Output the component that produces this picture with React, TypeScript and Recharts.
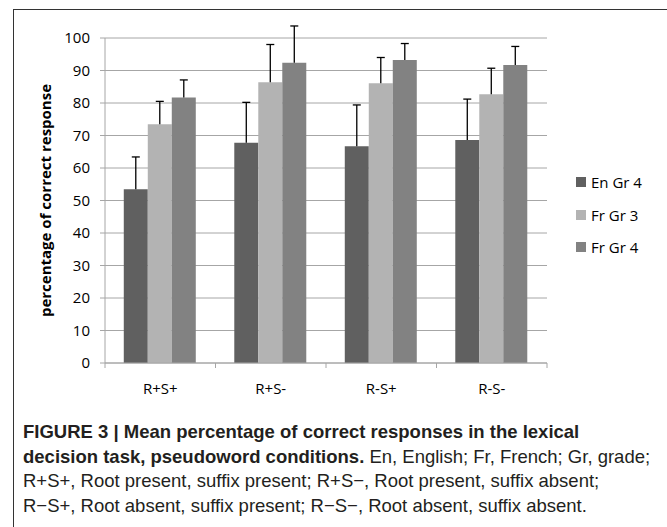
import React from 'react';
import { BarChart, Bar, XAxis, YAxis, CartesianGrid, Legend, LabelList } from 'recharts';

const categories = ['R+S+', 'R+S-', 'R-S+', 'R-S-'];
const enGr4 = [53.5, 67.8, 66.7, 68.6];
const frGr3 = [73.5, 86.4, 86.1, 82.7];
const frGr4 = [81.7, 92.4, 93.2, 91.7];
const enGr4Err = [9.9, 12.4, 12.7, 12.6];
const frGr3Err = [7.0, 11.6, 7.9, 8.0];
const frGr4Err = [5.4, 11.3, 5.1, 5.7];
const yTicks = [0, 10, 20, 30, 40, 50, 60, 70, 80, 90, 100];

const seriesNames = ['En Gr 4', 'Fr Gr 3', 'Fr Gr 4'];
const seriesColors = ['#606060', '#b3b3b3', '#828282'];

const data = categories.map((c, i) => ({
  cat: c,
  en4: enGr4[i],
  fr3: frGr3[i],
  fr4: frGr4[i],
}));

const TICK_FONT = '"Open Sans", sans-serif';
const GRID = '#a6a6a6';

const makeErr = (vals: number[], errs: number[]) => (p: any) => {
  const i = p.index;
  const v = vals[i];
  const e = errs[i];
  const x = Number(p.x), y = Number(p.y), w = Number(p.width), h = Number(p.height);
  if (!v || !isFinite(h)) return null;
  const perUnit = h / v;
  const top = y - e * perUnit;
  const cx = x + w / 2;
  return (
    <g>
      <line x1={cx} x2={cx} y1={y} y2={top} stroke="#000" strokeWidth={1.3} />
      <line x1={cx - 4} x2={cx + 4} y1={top} y2={top} stroke="#000" strokeWidth={1.3} />
    </g>
  );
};

const XTick = (p: any) => {
  const { x, y, payload, index, width, visibleTicksCount } = p;
  const n = visibleTicksCount || categories.length;
  const band = width / n;
  const left = x - band / 2;
  const right = x + band / 2;
  return (
    <g>
      <line x1={left} x2={left} y1={y} y2={y + 5} stroke={GRID} strokeWidth={1} />
      {index === n - 1 && <line x1={right} x2={right} y1={y} y2={y + 5} stroke={GRID} strokeWidth={1} />}
      <text x={x} y={y + 25} textAnchor="middle" dominantBaseline="central" fontFamily={TICK_FONT} fontSize={15} fill="#000">
        {payload.value}
      </text>
    </g>
  );
};

const YLabel = (p: any) => {
  const vb = p.viewBox || {};
  const cx = vb.x + 10;
  const cy = vb.y + vb.height / 2;
  return (
    <text x={cx} y={cy} transform={`rotate(-90, ${cx}, ${cy})`} textAnchor="middle" dominantBaseline="central"
      fontFamily={TICK_FONT} fontWeight={700} fontSize={15} fill="#000">
      percentage of correct response
    </text>
  );
};

const LegendContent = () => (
  <div style={{ fontFamily: TICK_FONT, fontSize: 15, color: '#000' }}>
    {seriesNames.map((n, i) => (
      <div key={n} style={{ display: 'flex', alignItems: 'center', height: 32.5 }}>
        <span style={{ display: 'inline-block', width: 10, height: 10, background: seriesColors[i], marginRight: 5 }} />
        <span>{n}</span>
      </div>
    ))}
  </div>
);

export default function App() {
  return (
    <div style={{ position: 'absolute', left: 0, top: 0, width: 667, height: 527, background: '#fff', overflow: 'hidden' }}>
      <div style={{ position: 'absolute', left: 13, top: 9, width: 660, height: 530, borderTop: '1.5px solid #333', borderLeft: '1.5px solid #333' }} />
      <div style={{ position: 'absolute', left: 0, top: 0 }}>
        <BarChart width={667} height={420} data={data} margin={{ top: 38, right: 120, bottom: 27, left: 35 }}
          barCategoryGap="17%" barGap={0}>
          <CartesianGrid vertical={false} stroke={GRID} strokeWidth={1} />
          <XAxis dataKey="cat" height={30} tickSize={0} tickMargin={0} tick={<XTick />} tickLine={false}
            axisLine={{ stroke: GRID, strokeWidth: 1 }} />
          <YAxis width={70} domain={[0, 100]} ticks={yTicks} interval={0} tickSize={5} tickMargin={10}
            tickLine={{ stroke: GRID }} axisLine={{ stroke: GRID, strokeWidth: 1 }}
            tick={{ fontFamily: TICK_FONT, fontSize: 15, fill: '#000' }}
            label={<YLabel />} />
          <Legend layout="horizontal" verticalAlign="middle" align="center" content={<LegendContent />}
            wrapperStyle={{ left: 576, top: 166, width: 90 }} />
          <Bar dataKey="en4" name={seriesNames[0]} fill={seriesColors[0]} isAnimationActive={false}>
            <LabelList dataKey="en4" content={makeErr(enGr4, enGr4Err)} />
          </Bar>
          <Bar dataKey="fr3" name={seriesNames[1]} fill={seriesColors[1]} isAnimationActive={false}>
            <LabelList dataKey="fr3" content={makeErr(frGr3, frGr3Err)} />
          </Bar>
          <Bar dataKey="fr4" name={seriesNames[2]} fill={seriesColors[2]} isAnimationActive={false}>
            <LabelList dataKey="fr4" content={makeErr(frGr4, frGr4Err)} />
          </Bar>
        </BarChart>
      </div>
      <div style={{ position: 'absolute', left: 23, top: 420, fontFamily: '"Liberation Sans", Arial, sans-serif', fontSize: 18.5, lineHeight: '24.6px', color: '#231f20', whiteSpace: 'nowrap' }}>
        <div><b>FIGURE 3 | Mean percentage of correct responses in the lexical</b></div>
        <div><b>decision task, pseudoword conditions.</b> En, English; Fr, French; Gr, grade;</div>
        <div>R+S+, Root present, suffix present; R+S−, Root present, suffix absent;</div>
        <div>R−S+, Root absent, suffix present; R−S−, Root absent, suffix absent.</div>
      </div>
    </div>
  );
}
